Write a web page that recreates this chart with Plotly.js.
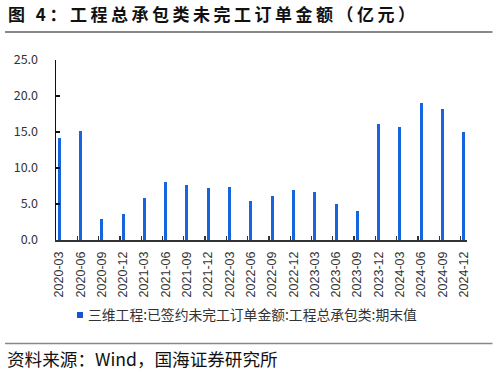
<!DOCTYPE html>
<html>
<head>
<meta charset="utf-8">
<script src="https://cdn.plot.ly/plotly-3.0.1.min.js"></script>
<style>
html,body{margin:0;padding:0;background:#fff;}
#chart{width:498px;height:372px;}
#chart .gtitle{letter-spacing:3.5px;}
</style>
</head>
<body>
<div id="chart"></div>
<script>
const categories = ["2020-03","2020-06","2020-09","2020-12","2021-03","2021-06","2021-09","2021-12",
  "2022-03","2022-06","2022-09","2022-12","2023-03","2023-06","2023-09","2023-12",
  "2024-03","2024-06","2024-09","2024-12"];
const values = [14.1, 15.1, 2.9, 3.6, 5.9, 8.0, 7.6, 7.2, 7.4, 5.4, 6.1, 6.9, 6.7, 5.0, 4.0,
  16.1, 15.7, 19.0, 18.2, 15.0];
const yTicks = [0, 5, 10, 15, 20, 25];
const seriesName = "三维工程:已签约未完工订单金额:工程总承包类:期末值";
const titleText = "<b>图 4：工程总承包类未完工订单金额（亿元）</b>";
const sourceText = "资料来源：Wind，国海证券研究所";

const idx = categories.map((c, i) => i);
const L = 56, R = 467.5, T = 60, B = 240, W = 498, H = 372;
const pw = R - L, ph = B - T;
const px = v => (v - L) / pw;
const py = v => (B - v) / ph;

const data = [
  {type: 'bar', x: idx, y: values, width: 0.14, marker: {color: '#1565E0'},
   name: seriesName, showlegend: false, hoverinfo: 'skip'},
  {type: 'scatter', mode: 'markers', x: [null], y: [null], name: seriesName,
   marker: {symbol: 'square', size: 6, color: '#1555D5'}, showlegend: true, xaxis: 'x2'}
];

const layout = {
  width: W, height: H,
  margin: {l: L, r: W - R, t: T, b: H - B, pad: 0},
  paper_bgcolor: '#fff', plot_bgcolor: '#fff',
  bargap: 0,
  showlegend: true,
  title: {text: titleText, x: 8 / W, xref: 'container', xanchor: 'left',
          y: 1 - 15 / H, yref: 'container', yanchor: 'middle',
          font: {family: '"Noto Sans CJK SC", sans-serif', size: 17, color: '#111'}},
  xaxis: {range: [-0.15, 19.15], tickvals: idx, ticktext: categories, tickangle: -90,
          ticks: '', showline: true, linecolor: '#333', linewidth: 1.5, showgrid: false,
          zeroline: false, ticklabelstandoff: 5, fixedrange: true,
          tickfont: {family: '"Liberation Sans", Arial, sans-serif', size: 12.5, color: '#333'}},
  xaxis2: {range: [-0.15, 19.15], overlaying: 'x', anchor: 'y', side: 'bottom',
           tickvals: idx.map(i => i - 0.15), ticks: 'inside', ticklen: 4, tickwidth: 1.3,
           tickcolor: '#333', showticklabels: false, showline: false, showgrid: false,
           zeroline: false, fixedrange: true},
  yaxis: {range: [0, 25], tickvals: yTicks, tickformat: '.1f', ticks: 'inside', ticklen: 4,
          tickwidth: 1.3, tickcolor: '#111', showline: true, linecolor: '#111', linewidth: 1.5,
          showgrid: false, zeroline: false, ticklabelstandoff: 14, fixedrange: true,
          tickfont: {family: '"Noto Sans CJK SC", sans-serif', size: 12.5, color: '#333'}},
  legend: {x: px(48), xanchor: 'left', y: py(315), yanchor: 'middle', orientation: 'h',
           font: {family: '"Noto Sans CJK SC", sans-serif', size: 13.8, color: '#333'},
           itemwidth: 30, bgcolor: 'rgba(0,0,0,0)'},
  shapes: [
    {type: 'line', xref: 'paper', yref: 'paper', x0: px(5), x1: px(493), y0: py(32), y1: py(32),
     line: {color: '#888', width: 2}},
    {type: 'line', xref: 'paper', yref: 'paper', x0: px(5), x1: px(493), y0: py(343.5), y1: py(343.5),
     line: {color: '#888', width: 1.5}}
  ],
  annotations: [
    {text: sourceText, xref: 'paper', yref: 'paper', x: px(5), y: py(358), xanchor: 'left',
     yanchor: 'middle', showarrow: false,
     font: {family: '"Noto Sans CJK SC", sans-serif', size: 17.6, color: '#111'}}
  ]
};

Plotly.newPlot('chart', data, layout, {staticPlot: true, displayModeBar: false}).then(() => {
  document.querySelectorAll('.legend .legendpoints').forEach(g => {
    g.setAttribute('transform', 'translate(12,0)');
  });
});
</script>
</body>
</html>
